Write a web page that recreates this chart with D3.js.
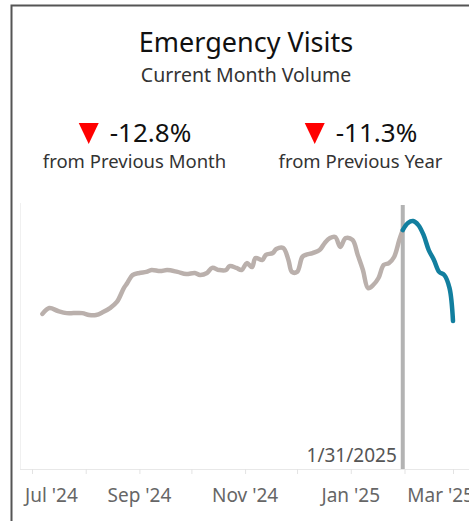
<!DOCTYPE html>
<html>
<head>
<meta charset="utf-8">
<script src="https://cdn.jsdelivr.net/npm/d3@7"></script>
<style>
  body { margin: 0; background: #fff; }
  text { font-family: "Noto Sans", "Open Sans", sans-serif; }
</style>
</head>
<body>
<div class="chart"></div>
<script>
// Chart values (daily visits, estimated)
var pastDates = ["2024-07-07","2024-07-11","2024-07-16","2024-07-21","2024-07-25","2024-07-30",
  "2024-08-03","2024-08-07","2024-08-11","2024-08-15","2024-08-19","2024-08-23","2024-08-25","2024-08-28",
  "2024-09-01","2024-09-05","2024-09-08","2024-09-13","2024-09-17","2024-09-23","2024-09-28",
  "2024-10-03","2024-10-06","2024-10-10","2024-10-13","2024-10-17","2024-10-21","2024-10-23","2024-10-27","2024-10-30",
  "2024-11-02","2024-11-05","2024-11-07","2024-11-11","2024-11-13","2024-11-17","2024-11-19","2024-11-23","2024-11-26","2024-11-28",
  "2024-12-01","2024-12-04","2024-12-06","2024-12-10","2024-12-14","2024-12-17","2024-12-20","2024-12-23","2024-12-26","2024-12-29",
  "2025-01-02","2025-01-05","2025-01-08","2025-01-11","2025-01-14","2025-01-17","2025-01-20","2025-01-23","2025-01-26","2025-01-29","2025-01-31"];
var pastValues = [583,605,594,586,586,586,
  579,579,590,605,628,680,699,729,
  737,741,748,744,748,741,733,
  737,729,737,756,748,748,763,756,748,
  774,759,793,786,805,812,827,831,786,741,
  741,797,805,812,823,850,868,872,835,868,
  861,805,748,680,692,718,767,774,797,861,898];

var currentDates = ["2025-01-31","2025-02-03","2025-02-06","2025-02-09","2025-02-12","2025-02-15",
  "2025-02-18","2025-02-21","2025-02-24","2025-02-27","2025-03-01"];
var currentValues = [898,925,932,917,880,823,786,741,729,680,556];

var tickMonths = ["2024-07-01","2024-08-01","2024-09-01","2024-10-01","2024-11-01","2024-12-01","2025-01-01","2025-02-01","2025-03-01"];
var labelMonths = ["2024-07-01","2024-09-01","2024-11-01","2025-01-01","2025-03-01"];
var refDate = "2025-01-31";
var refLabel = "1/31/2025";

var svgWidth = 469, svgHeight = 521;
var parse = d3.timeParse("%Y-%m-%d");

var svg = d3.select(".chart").append("svg")
  .attr("width", svgWidth).attr("height", svgHeight);

// outer frame
svg.append("path")
  .attr("d", "M11.5,521 L11.5,5.5 L469,5.5")
  .attr("fill", "none").attr("stroke", "#555").attr("stroke-width", 2);

// Titles
svg.append("text").attr("x", 246).attr("y", 52).attr("text-anchor", "middle")
  .attr("font-size", 27).attr("fill", "#111").text("Emergency Visits");
svg.append("text").attr("x", 246).attr("y", 82).attr("text-anchor", "middle")
  .attr("font-size", 19.5).attr("fill", "#333").text("Current Month Volume");

// KPI blocks
function kpi(cx, value, label) {
  var g = svg.append("g");
  var v = g.append("text").attr("x", cx + 16).attr("y", 142).attr("text-anchor", "middle")
    .attr("font-size", 26).attr("fill", "#111").text(value);
  var bb = v.node().getBBox();
  var tx = bb.x - 21;
  g.append("path")
    .attr("d", "M" + (tx - 10) + ",123 L" + (tx + 10) + ",123 L" + tx + ",144 Z")
    .attr("fill", "#ff0000");
  g.append("text").attr("x", cx).attr("y", 168).attr("text-anchor", "middle")
    .attr("font-size", 18.5).attr("fill", "#333").text(label);
}
kpi(134.5, "-12.8%", "from Previous Month");
kpi(360.5, "-11.3%", "from Previous Year");

// Scales
var x = d3.scaleTime().domain([parse("2024-07-01"), parse("2025-03-01")]).range([32, 453]);
var y = d3.scaleLinear().domain([0, 1000]).range([469, 203]);

// plot frame lines
svg.append("line").attr("x1", 20.5).attr("x2", 20.5).attr("y1", 203).attr("y2", 469)
  .attr("stroke", "#f0f0f0");
svg.append("line").attr("x1", 20).attr("x2", 469).attr("y1", 469.5).attr("y2", 469.5)
  .attr("stroke", "#e8e8e8");

// x axis
var xAxis = d3.axisBottom(x)
  .tickValues(tickMonths.map(parse))
  .tickSize(5)
  .tickFormat("");
var axisG = svg.append("g").attr("transform", "translate(0,469)").call(xAxis);
axisG.select(".domain").remove();
axisG.selectAll(".tick line").attr("stroke", "#e3e3e3");

// month labels, nudged to stay in the view like the original
var fmt = d3.timeFormat("%b '%y");
svg.selectAll(".xlab").data(labelMonths.map(parse)).enter().append("text")
  .attr("class", "xlab")
  .attr("x", function(d) { return x(d); })
  .attr("y", 502)
  .attr("text-anchor", "middle")
  .attr("font-size", 19)
  .attr("fill", "#666")
  .text(function(d) { return fmt(d); })
  .each(function() {
    var bb = this.getBBox();
    var sel = d3.select(this);
    if (bb.x < 23) sel.attr("x", +sel.attr("x") + (23 - bb.x));
    if (bb.x + bb.width > 474) sel.attr("x", +sel.attr("x") - (bb.x + bb.width - 474));
  });

// reference line
svg.append("line")
  .attr("x1", x(parse(refDate))).attr("x2", x(parse(refDate)))
  .attr("y1", 205).attr("y2", 469)
  .attr("stroke", "#b3b3b3").attr("stroke-width", 4);
svg.append("text").attr("x", x(parse(refDate)) - 6).attr("y", 462)
  .attr("text-anchor", "end").attr("font-size", 19).attr("fill", "#555")
  .text(refLabel);

// lines
var line = d3.line()
  .x(function(d) { return x(d[0]); })
  .y(function(d) { return y(d[1]); })
  .curve(d3.curveCatmullRom.alpha(0.5));

var past = pastDates.map(function(d, i) { return [parse(d), pastValues[i]]; });
var current = currentDates.map(function(d, i) { return [parse(d), currentValues[i]]; });

svg.append("path").datum(past).attr("d", line)
  .attr("fill", "none").attr("stroke", "#bab0ac").attr("stroke-width", 4.5)
  .attr("stroke-linejoin", "round").attr("stroke-linecap", "round");
svg.append("path").datum(current).attr("d", line)
  .attr("fill", "none").attr("stroke", "#127f9f").attr("stroke-width", 4.5)
  .attr("stroke-linejoin", "round").attr("stroke-linecap", "round");
</script>
</body>
</html>
